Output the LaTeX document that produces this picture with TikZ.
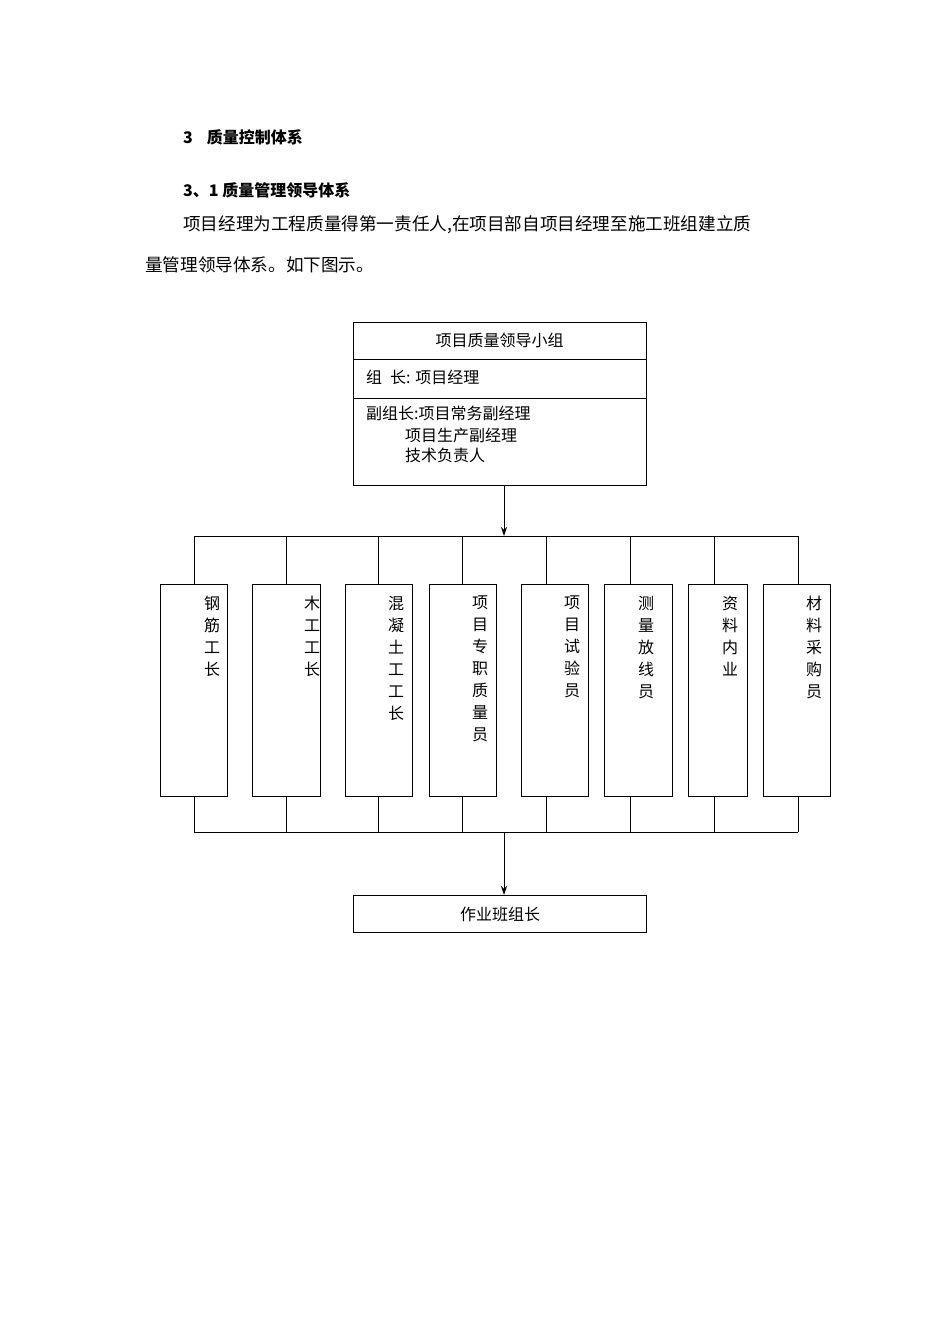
\documentclass[tikz,border=0pt]{standalone}
\usepackage{fontspec}
\newfontfamily\cjk{Noto Sans CJK SC}
\usetikzlibrary{arrows.meta}
\begin{document}
\begin{tikzpicture}[x=1pt,y=-1pt,
  box/.style={draw,line width=1pt},
  ln/.style={line width=1pt},
  arr/.style={line width=1pt,-{Stealth[length=9pt,width=6pt]}},
  txt/.style={font=\cjk\fontsize{16}{22}\selectfont,inner sep=0pt},
  vt/.style={font=\cjk\fontsize{16}{22}\selectfont,inner sep=0pt,align=center,anchor=north}]
\useasboundingbox[fill=white] (0,0) rectangle (950,1344);
\node[anchor=west,inner sep=0pt,font=\cjk\bfseries\fontsize{16}{20}\selectfont] (h1) at (183,137) {3\hspace{14pt}质量控制体系};
\node[anchor=west,inner sep=0pt,font=\cjk\bfseries\fontsize{16}{20}\selectfont] (h2) at (183,190) {3、1 质量管理领导体系};
\node[anchor=west,inner sep=0pt,font=\cjk\fontsize{17.6}{20}\selectfont] (p1) at (183,225) {项目经理为工程质量得第一责任人,在项目部自项目经理至施工班组建立质};
\node[anchor=west,inner sep=0pt,font=\cjk\fontsize{17.6}{20}\selectfont] (p2) at (145,265) {量管理领导体系。如下图示。};
% top box
\draw[box] (353,322) rectangle (646,485);
\draw[ln] (353,359) -- (646,359);
\draw[ln] (353,398) -- (646,398);
\node[txt] (t1) at (499.5,340) {项目质量领导小组};
\node[txt,anchor=west] (t2) at (366,377) {组\hspace{8pt}长: 项目经理};
\node[txt,anchor=west] (t3) at (366,413) {副组长:项目常务副经理};
\node[txt,anchor=west] (t4) at (405,435) {项目生产副经理};
\node[txt,anchor=west] (t5) at (405,455) {技术负责人};
\coordinate (topb) at (504,485);
\coordinate (bus1) at (504,536);
\draw[arr] (topb) -- (bus1);
\draw[ln] (194,536) -- (798,536);
\draw[ln] (194,832) -- (798,832);
\foreach \l/\r/\c/\tx/\s in {160/227/194/212/{钢\\筋\\工\\长},252/320/286/312/{木\\工\\工\\长},345/412/378/396/{混\\凝\\土\\工\\工\\长},429/496/462/480/{项\\目\\专\\职\\质\\量\\员},521/588/546/572/{项\\目\\试\\验\\员},604/672/630/646/{测\\量\\放\\线\\员},688/747/714/730/{资\\料\\内\\业},763/830/798/814/{材\\料\\采\\购\\员}}{
  \draw[box] (\l,584) rectangle (\r,796);
  \draw[ln] (\c,536) -- (\c,584);
  \draw[ln] (\c,796) -- (\c,832);
  \node[vt] at (\tx,596) {\s};
}
\coordinate (bus2) at (504,832);
\node[box,minimum width=293pt,minimum height=37pt,inner sep=0pt,anchor=north west,font=\cjk\fontsize{16}{22}\selectfont] (bot) at (353,895) {作业班组长};
\draw[arr] (bus2) -- (bot.north -| bus2);
\end{tikzpicture}
\end{document}
